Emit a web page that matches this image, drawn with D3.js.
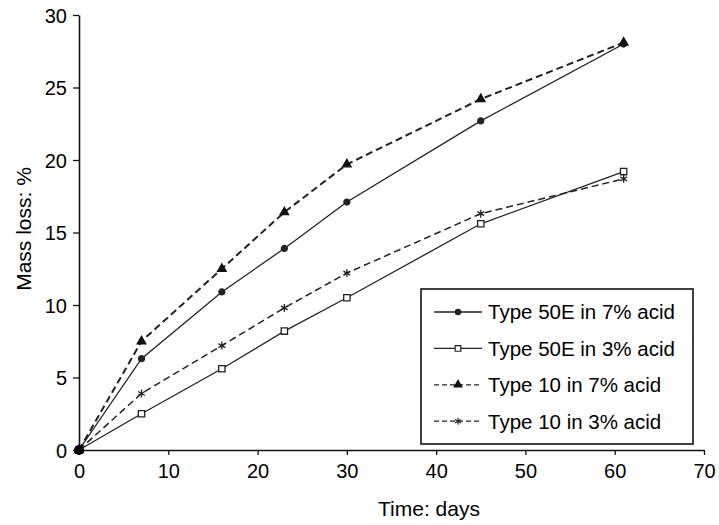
<!DOCTYPE html>
<html>
<head>
<meta charset="utf-8">
<script src="https://cdn.jsdelivr.net/npm/d3@7"></script>
<style>
  body { margin: 0; background: #fff; }
  svg text { font-family: "Liberation Sans", Arial, sans-serif; fill: #000; }
</style>
</head>
<body>
<div chart></div>
<script>
const days = [0, 7, 16, 23, 30, 45, 61];
const type50E7 = [0, 6.3, 10.9, 13.9, 17.1, 22.7, 28.0];
const type50E3 = [0, 2.5, 5.6, 8.2, 10.5, 15.6, 19.2];
const type10_7 = [0, 7.5, 12.5, 16.4, 19.7, 24.2, 28.1];
const type10_3 = [0, 3.9, 7.2, 9.8, 12.2, 16.3, 18.7];
const seriesNames = [
  "Type 50E in 7% acid",
  "Type 50E in 3% acid",
  "Type 10 in 7% acid",
  "Type 10 in 3% acid",
];
const xTicks = [0, 10, 20, 30, 40, 50, 60, 70];
const yTicks = [0, 5, 10, 15, 20, 25, 30];

const width = 719, height = 525;

// six-armed asterisk, drawn by hand so it does not depend on the d3 minor version
const symbolStar = {
  draw(ctx, size) {
    const r = Math.sqrt(size) * 0.6;
    const t = r / 2, u = t * Math.sqrt(3);
    ctx.moveTo(0, r); ctx.lineTo(0, -r);
    ctx.moveTo(-u, -t); ctx.lineTo(u, t);
    ctx.moveTo(-u, t); ctx.lineTo(u, -t);
  }
};

const series = [
  { name: seriesNames[0], values: type50E7, dash: null, width: 1.3, symbol: d3.symbolCircle, size: 28, fill: "#222", stroke: "#222" },
  { name: seriesNames[1], values: type50E3, dash: null, width: 1.3, symbol: d3.symbolSquare, size: 40, fill: "#fff", stroke: "#222" },
  { name: seriesNames[2], values: type10_7, dash: "7,4", width: 2, symbol: d3.symbolTriangle, size: 32, fill: "#111", stroke: "#111" },
  { name: seriesNames[3], values: type10_3, dash: "7,4", width: 1.5, symbol: symbolStar, size: 44, fill: "none", stroke: "#222" },
];

const x = d3.scaleLinear().domain([0, 70]).range([79, 704]);
const y = d3.scaleLinear().domain([0, 30]).range([450, 15]);

const svg = d3.select("[chart]")
  .append("svg")
  .attr("width", width)
  .attr("height", height);

// axes
const xAxis = svg.append("g")
  .attr("transform", `translate(0,${y(0)})`)
  .call(d3.axisBottom(x).tickValues(xTicks).tickSize(5).tickSizeOuter(0).tickPadding(9));
const yAxis = svg.append("g")
  .attr("transform", `translate(${x(0)},0)`)
  .call(d3.axisLeft(y).tickValues(yTicks).tickSize(6).tickSizeOuter(0).tickPadding(6));

[xAxis, yAxis].forEach((g) => {
  g.select(".domain").attr("stroke", "#111").attr("stroke-width", 1.6);
  g.selectAll(".tick line").attr("stroke", "#111").attr("stroke-width", 1.3);
  g.selectAll(".tick text")
    .attr("font-size", 20)
    .attr("font-family", "Liberation Sans, Arial, sans-serif")
    .attr("fill", "#000");
});
yAxis.selectAll(".tick text").attr("dy", "0.36em");

svg.append("text")
  .attr("x", 429)
  .attr("y", 516)
  .attr("text-anchor", "middle")
  .attr("font-size", 21)
  .text("Time: days");

svg.append("text")
  .attr("transform", "translate(31,229) rotate(-90)")
  .attr("text-anchor", "middle")
  .attr("font-size", 21)
  .text("Mass loss: %");

// lines + markers
const line = d3.line()
  .x((d, i) => x(days[i]))
  .y((d) => y(d));

series.forEach((s) => {
  svg.append("path")
    .datum(s.values)
    .attr("d", line)
    .attr("fill", "none")
    .attr("stroke", "#222")
    .attr("stroke-width", s.width)
    .attr("stroke-dasharray", s.dash);

  svg.selectAll(null)
    .data(s.values)
    .join("path")
    .attr("transform", (d, i) => `translate(${x(days[i])},${y(d)})`)
    .attr("d", d3.symbol().type(s.symbol).size(s.size))
    .attr("fill", s.fill)
    .attr("stroke", s.stroke)
    .attr("stroke-width", 1.3);
});

// origin blob where all series meet
svg.append("circle")
  .attr("cx", x(0))
  .attr("cy", y(0))
  .attr("r", 5)
  .attr("fill", "#000");

// legend
const legend = svg.append("g").attr("transform", "translate(421,289)");
legend.append("rect")
  .attr("width", 272)
  .attr("height", 155)
  .attr("fill", "#fff")
  .attr("stroke", "#111")
  .attr("stroke-width", 1.6);

const item = legend.selectAll("g.item")
  .data(series)
  .join("g")
  .attr("class", "item")
  .attr("transform", (d, i) => `translate(0,${23 + i * 36.4})`);

item.append("line")
  .attr("x1", 13).attr("x2", 61)
  .attr("stroke", "#222")
  .attr("stroke-width", 1.3)
  .attr("stroke-dasharray", (d) => d.dash ? "5,3" : null);

item.append("path")
  .attr("transform", "translate(37,0)")
  .attr("d", (d) => d3.symbol().type(d.symbol).size(d.size * 0.8)())
  .attr("fill", (d) => d.fill)
  .attr("stroke", (d) => d.stroke)
  .attr("stroke-width", 1.2);

item.append("text")
  .attr("x", 67)
  .attr("dy", "0.36em")
  .attr("font-size", 20.5)
  .text((d) => d.name);
</script>
</body>
</html>
